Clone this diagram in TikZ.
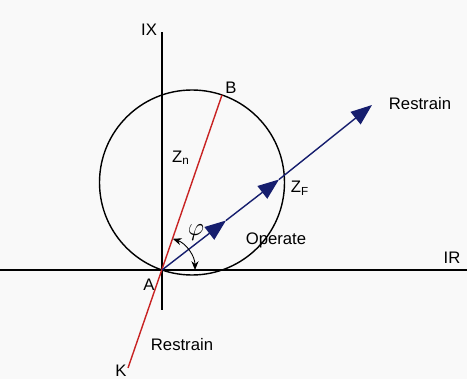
\documentclass[tikz,border=0pt]{standalone}
\usepackage{fontspec}
\setmainfont{Liberation Sans}
\usepackage{xcolor}
\definecolor{relayred}{RGB}{200, 35, 35}
\definecolor{relaynavy}{RGB}{22, 30, 110}
\definecolor{relaybg}{RGB}{249, 249, 249}
\usetikzlibrary{arrows.meta, calc}

\begin{document}
\begin{tikzpicture}[x=0.02cm, y=0.02cm,
    lbl/.style={font=\fontsize{9.5}{11}\selectfont, inner sep=1pt},
    axis/.style={black, line width=0.8pt},
    zline/.style={relaynavy, line width=0.8pt, -{Triangle[length=12pt, width=9pt]}}]
      % Background
      \fill[relaybg] (0,0) rectangle (467,379);
      \useasboundingbox (0,0) rectangle (467,379);
      % Points
      \coordinate (A) at (162,109);
      \coordinate (C) at (192,196.5);
      \coordinate (B) at (222,284);
      \coordinate (K) at (128,11);
      \coordinate (ZF) at (226,158.5);
      \coordinate (ZG) at (279,199.5);
      \coordinate (T) at (372,274);
      \coordinate (irL) at (0,109);
      \coordinate (irR) at (467,109);
      \coordinate (ixB) at (162,69);
      \coordinate (ixT) at (162,347);
      % Axes
      \draw[axis] (irL) -- (irR);
      \draw[axis] (ixB) -- (ixT);
      % Mho circle
      \draw[black, line width=0.8pt] (C) circle (92.5);
      % Line impedance K-A-B
      \draw[relayred, line width=0.8pt] (K) -- (B);
      % Fault impedance
      \draw[zline] (A) -- (ZF);
      \draw[zline] (ZF) -- (ZG);
      \draw[zline] (ZG) -- (T);
      % Angle phi
      \draw[black, line width=0.5pt, {Stealth[length=5pt, width=4pt]}-{Stealth[length=5pt, width=4pt]}]
        ($(A)+(71:33)$) arc (71:0:33);
      % Labels
      \node[lbl] (ixlbl) at (149,349) {IX};
      \node[lbl] (irlbl) at (452,121) {IR};
      \node[lbl] (albl) at (149,94) {A};
      \node[lbl] (blbl) at (231,291) {B};
      \node[lbl] (klbl) at (121,8) {K};
      \node[lbl] (znlbl) at (181,221) {Z\textsubscript{n}};
      \node[lbl] (zflbl) at (300,191) {Z\textsubscript{F}};
      \node[lbl, font=\Large] (philbl) at (196,146) {$\varphi$};
      \node[lbl] (oplbl) at (276,139) {Operate};
      \node[lbl] (rtop) at (420,275) {Restrain};
      \node[lbl] (rbot) at (182,34) {Restrain};
    \end{tikzpicture}
\end{document}
